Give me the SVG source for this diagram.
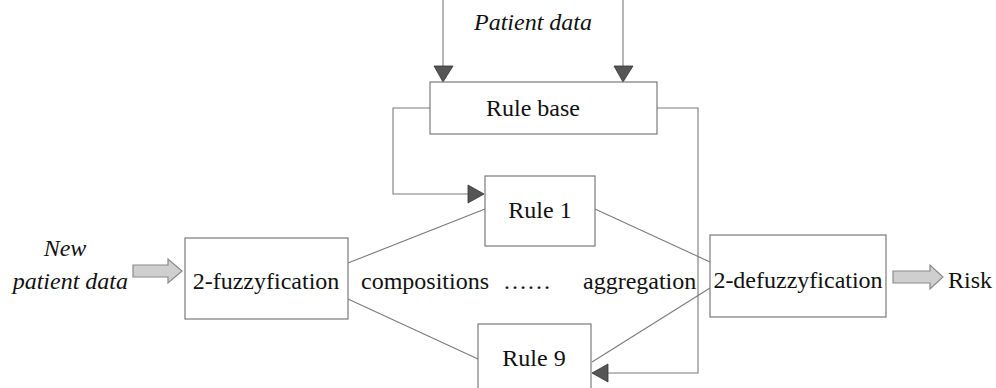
<svg xmlns="http://www.w3.org/2000/svg" width="996" height="388" viewBox="0 0 996 388">
<style>
.box{fill:#fff;stroke:#7a7a7a;stroke-width:1.2}
.ln{fill:none;stroke:#7a7a7a;stroke-width:1.1}
.t{font-family:"Liberation Serif","Times New Roman",serif;font-size:24px;fill:#111}
.i{font-style:italic}
.head{fill:#555;stroke:#333;stroke-width:0.8}
.blk{fill:#cfcfcf;stroke:#8a8a8a;stroke-width:1.2}
</style>
<rect width="996" height="388" fill="#fff"/>
<g id="connectors">
  <line class="ln" x1="443" y1="0" x2="443" y2="66"/>
  <polygon class="head" points="434,66 453,66 443,82"/>
  <line class="ln" x1="623" y1="0" x2="623" y2="66"/>
  <polygon class="head" points="614,66 633,66 623,82"/>
  <polyline class="ln" points="430,108 393,108 393,194 468,194"/>
  <polygon class="head" points="468,185 468,203 484,194"/>
  <polyline class="ln" points="657,108 698,108 698,373 608,373"/>
  <polygon class="head" points="608,364 608,382 592,373"/>
  <line class="ln" x1="348" y1="263" x2="485" y2="209"/>
  <line class="ln" x1="348" y1="299" x2="478" y2="359"/>
  <line class="ln" x1="595" y1="209" x2="710" y2="262"/>
  <line class="ln" x1="710" y1="288" x2="592" y2="362"/>
  <polygon class="blk" points="133,265 168,265 168,259 182,271 168,283 168,277 133,277"/>
  <polygon class="blk" points="893,271 930,271 930,265 943,277 930,289 930,283 893,283"/>
</g>
<g id="patient-data">
  <text class="t i" x="533" y="30" text-anchor="middle">Patient data</text>
</g>
<g id="rule-base">
  <rect class="box" x="430" y="82" width="227" height="52"/>
  <text class="t" x="533" y="116" text-anchor="middle">Rule base</text>
</g>
<g id="rule-1">
  <rect class="box" x="485" y="176" width="110" height="70"/>
  <text class="t" x="540" y="218" text-anchor="middle">Rule 1</text>
</g>
<g id="rule-9">
  <rect class="box" x="478" y="324" width="113" height="80"/>
  <text class="t" x="534" y="366" text-anchor="middle">Rule 9</text>
</g>
<g id="new-patient-data">
  <text class="t i" x="65" y="256" text-anchor="middle">New</text>
  <text class="t i" x="128" y="289" text-anchor="end">patient data</text>
</g>
<g id="fuzzyfication">
  <rect class="box" x="185" y="238" width="163" height="81"/>
  <text class="t" x="266" y="289" text-anchor="middle">2-fuzzyfication</text>
</g>
<g id="labels">
  <text class="t" x="361" y="289">compositions</text>
  <text class="t" x="503" y="289">……</text>
  <text class="t" x="583" y="289">aggregation</text>
</g>
<g id="defuzzyfication">
  <rect class="box" x="710" y="235" width="176" height="82"/>
  <text class="t" x="798" y="288" text-anchor="middle">2-defuzzyfication</text>
</g>
<g id="risk">
  <text class="t" x="948" y="288">Risk</text>
</g>
</svg>
